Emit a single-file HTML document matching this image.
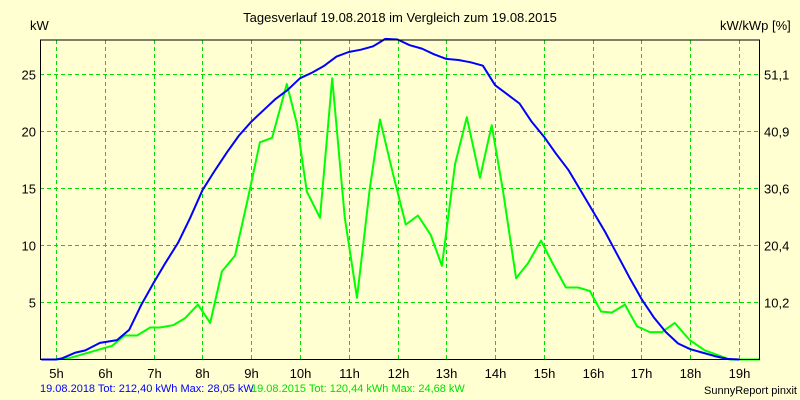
<!DOCTYPE html>
<html><head><meta charset="utf-8"><style>
body{margin:0;background:#ffffd2;}
svg{display:block;font-family:"Liberation Sans",sans-serif;}
</style></head><body>
<svg id="chart" width="800" height="400" viewBox="0 0 800 400">
<rect width="800" height="400" fill="#ffffd2"/>
<text x="400" y="22" font-size="13" text-anchor="middle">Tagesverlauf 19.08.2018 im Vergleich zum 19.08.2015</text>
<text x="30" y="30" font-size="13">kW</text>
<text x="720" y="30" font-size="13">kW/kWp [%]</text>
<g id="grid"></g><g id="series"></g><g id="labels"></g>
<line x1="40" y1="40" x2="760" y2="40" stroke="#000"/>
<line x1="40.5" y1="40" x2="40.5" y2="360" stroke="#000"/>
<line x1="759.5" y1="40" x2="759.5" y2="360" stroke="#000"/>
<line x1="40" y1="359.5" x2="760" y2="359.5" stroke="#000"/>
<text x="40" y="392" font-size="11" fill="#0000ff">19.08.2018 Tot: 212,40 kWh Max: 28,05 kW</text>
<text x="251" y="392" font-size="11" fill="#00e000">19.08.2015 Tot: 120,44 kWh Max: 24,68 kW</text>
<text x="797" y="394" font-size="11" text-anchor="end">SunnyReport pinxit</text>
</svg>
<script>
const hourTicks=[5,6,7,8,9,10,11,12,13,14,15,16,17,18,19];
const kwTicks=[5,10,15,20,25];
const pctTicks=["10,2","20,4","30,6","40,9","51,1"];
const blueT=[4.7,5.0,5.12,5.4,5.6,5.9,6.25,6.5,6.75,7.0,7.25,7.5,7.75,8.0,8.25,8.5,8.75,9.0,9.25,9.5,9.75,10.0,10.25,10.5,10.75,11.0,11.25,11.5,11.75,12.0,12.25,12.5,12.75,13.0,13.25,13.5,13.75,14.0,14.25,14.5,14.75,15.0,15.25,15.5,15.75,16.0,16.25,16.5,16.75,17.0,17.25,17.5,17.75,18.0,18.25,18.5,18.75,19.0];
const blueKW=[0,0,0.1,0.6,0.8,1.45,1.7,2.6,4.8,6.7,8.5,10.2,12.4,14.8,16.5,18.1,19.6,20.8,21.8,22.8,23.6,24.6,25.1,25.7,26.5,26.9,27.1,27.4,28.05,28.0,27.5,27.2,26.7,26.3,26.2,26.0,25.7,24.0,23.2,22.4,20.8,19.5,18.0,16.6,14.8,13.0,11.2,9.2,7.2,5.3,3.7,2.4,1.4,0.9,0.6,0.3,0.05,0];
const greenT=[4.7,5.0,5.25,6.15,6.41,6.66,6.93,7.13,7.40,7.64,7.91,8.16,8.40,8.67,8.93,9.18,9.43,9.73,9.94,10.14,10.41,10.66,10.92,11.17,11.43,11.64,11.91,12.17,12.42,12.68,12.91,13.18,13.42,13.69,13.93,14.16,14.43,14.67,14.94,15.18,15.45,15.70,15.94,16.17,16.39,16.66,16.91,17.17,17.42,17.68,17.99,18.30,18.81,19.43];
const greenKW=[0,0,0.1,1.2,2.1,2.1,2.8,2.8,3.0,3.6,4.8,3.2,7.7,9.1,14.0,19.0,19.4,24.1,20.6,14.7,12.4,24.6,12.4,5.4,14.9,21.0,16.2,11.8,12.6,10.9,8.2,17.1,21.2,15.9,20.5,14.8,7.1,8.4,10.4,8.4,6.3,6.3,6.0,4.2,4.1,4.8,2.9,2.4,2.4,3.2,1.7,0.8,0,0];
const NS="http://www.w3.org/2000/svg";
const xS=h=>56+(h-5)*48.79;
const yS=v=>359.5-v*11.43;
const grid=document.getElementById('grid'),lab=document.getElementById('labels'),ser=document.getElementById('series');
function mk(tag,attrs,parent){const e=document.createElementNS(NS,tag);for(const k in attrs)e.setAttribute(k,attrs[k]);parent.appendChild(e);return e;}
hourTicks.forEach(h=>{
 const x=Math.round(xS(h))+0.5;
 const l=mk('line',{x1:x,y1:40,x2:x,y2:359,stroke:'#00e000','stroke-dasharray':'4,3'},grid);
 
 
 const t=mk('text',{x:x,y:378,'font-size':13,'text-anchor':'middle'},lab);
 t.textContent=h+'h';
 
 
});
kwTicks.forEach((v,i)=>{
 const y=Math.round(yS(v))+0.5;
 const l=mk('line',{x1:40,y1:y,x2:760,y2:y,stroke:'#00e000','stroke-dasharray':'4,3'},grid);
 
 
 const t=mk('text',{x:36,y:y+5,'font-size':13,'text-anchor':'end'},lab);
 t.textContent=v;
 
 
 const t2=mk('text',{x:764,y:y+5,'font-size':13},lab);
 t2.textContent=pctTicks[i];
 
 
});
function line(ts,vs,color,name){
 const d=ts.map((t,i)=>(i?'L':'M')+Math.max(40,xS(t)).toFixed(1)+','+yS(vs[i]).toFixed(1)).join(' ');
 const p=mk('path',{d:d,fill:'none',stroke:color,'stroke-width':2,'stroke-linejoin':'round'},ser);
 
 
}
line(greenT,greenKW,'#00ff00','series-2015-line');
line(blueT,blueKW,'#0000ff','series-2018-line');
</script>
</body></html>
